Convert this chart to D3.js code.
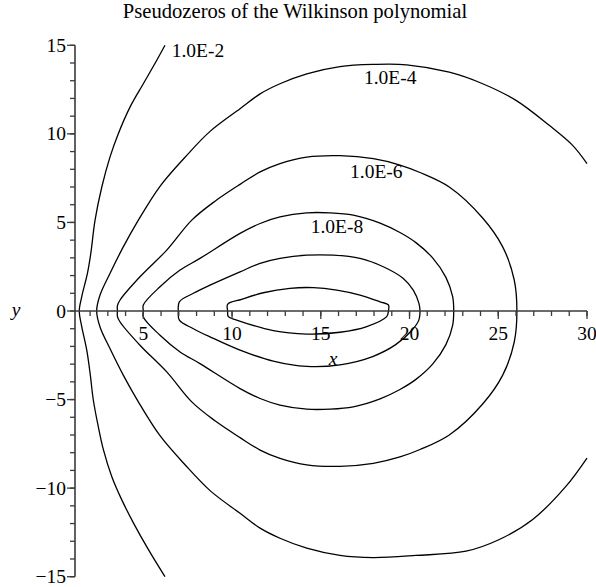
<!DOCTYPE html>
<html>
<head>
<meta charset="utf-8">
<script src="https://cdn.jsdelivr.net/npm/d3@7/dist/d3.min.js"></script>
<style>
  html, body { margin: 0; padding: 0; background: #fff; }
  svg { display: block; }
  text { font-family: "Liberation Serif", "Times New Roman", serif; fill: #000; }
</style>
</head>
<body>
<svg id="chart" width="596" height="587"></svg>
<script>
// Pseudozero contours of the Wilkinson polynomial, eps = 1e-2 ... 1e-12.
// Each contour is stored as its upper branch (y >= 0) and lower branch (y <= 0).

const eps2Upper = [[1.39,0],[1.53,0.81],[1.85,2.12],[2.04,3.25],[2.28,5.13],[2.66,7.0],[3.12,8.69],[3.59,10.01],[4.25,11.51],[5.0,12.83],[5.75,14.14],[6.22,15.0]];
const eps2Lower = [[1.39,0],[1.53,-0.88],[1.81,-2.20],[2.0,-3.51],[2.18,-5.01],[2.46,-6.52],[2.75,-7.83],[3.22,-9.34],[3.78,-10.65],[4.44,-11.96],[5.28,-13.46],[6.22,-15.0]];

const eps4Upper = [[2.37,0],[2.56,0.90],[3.12,2.12],[3.87,3.62],[4.72,5.13],[5.94,7.04],[7.35,8.68],[8.76,10.14],[10.45,11.42],[11.58,12.26],[12.70,12.83],[14.21,13.39],[16.08,13.80],[17.96,13.92],[19.84,13.90],[22.24,13.48],[24.12,12.83],[26.0,11.89],[27.87,10.48],[29.19,9.35],[30.0,8.32]];
const eps4Lower = [[2.37,0],[2.56,-0.90],[3.12,-2.12],[3.87,-3.62],[4.72,-5.13],[5.94,-7.04],[7.35,-8.68],[8.76,-10.14],[10.45,-11.42],[11.58,-12.26],[12.70,-12.83],[14.21,-13.39],[16.08,-13.80],[17.96,-13.92],[20.36,-13.80],[23.18,-13.56],[25.06,-12.90],[26.94,-11.77],[28.81,-9.90],[30.0,-8.30]];

const eps6Upper = [[3.54,0],[3.54,0.30],[3.69,0.62],[4.81,1.93],[6.32,3.44],[7.73,5.13],[9.04,6.20],[10.45,7.15],[11.58,7.85],[12.70,8.32],[14.21,8.69],[16.08,8.77],[17.96,8.60],[19.46,8.24],[20.59,7.82],[22.24,7.0],[24.12,5.25],[25.25,3.62],[25.90,1.75],[26.05,0]];
const eps6Lower = [[3.54,0],[3.54,-0.30],[3.69,-0.62],[4.81,-1.93],[6.32,-3.44],[7.73,-5.13],[9.04,-6.20],[10.45,-7.15],[11.58,-7.85],[12.70,-8.32],[14.21,-8.69],[16.08,-8.77],[17.96,-8.60],[19.46,-8.24],[20.59,-7.82],[22.24,-7.0],[24.12,-5.25],[25.25,-3.62],[25.90,-1.75],[26.05,0]];

const eps8Upper = [[5.0,0],[5.0,0.34],[5.94,1.37],[7.07,2.31],[8.19,2.97],[10.45,4.38],[11.58,4.94],[12.70,5.31],[14.21,5.54],[15.52,5.54],[16.83,5.41],[18.34,4.96],[19.46,4.43],[20.36,3.86],[21.30,3.0],[22.05,1.90],[22.43,0.81],[22.49,0]];
const eps8Lower = [[5.0,0],[5.0,-0.34],[5.94,-1.37],[7.07,-2.31],[8.19,-2.97],[10.45,-4.38],[11.58,-4.94],[12.70,-5.31],[14.21,-5.54],[15.52,-5.54],[16.83,-5.41],[18.34,-4.96],[19.46,-4.43],[20.36,-3.86],[21.30,-3.0],[22.05,-1.90],[22.43,-0.81],[22.49,0]];

const eps10Upper = [[6.97,0],[7.03,0.52],[7.82,1.0],[8.76,1.46],[10.45,2.21],[11.58,2.69],[12.70,2.97],[14.21,3.15],[15.70,3.15],[17.21,2.97],[18.52,2.50],[19.65,1.84],[20.21,1.18],[20.53,0.43],[20.59,0]];
const eps10Lower = [[6.97,0],[7.03,-0.52],[7.82,-1.0],[8.76,-1.46],[10.45,-2.21],[12.32,-2.83],[14.21,-3.13],[16.08,-3.04],[17.92,-2.57],[19.22,-1.90],[20.15,-1.07],[20.53,-0.50],[20.59,0]];

const eps12Upper = [[9.75,0],[9.75,0.38],[10.54,0.66],[11.76,1.03],[13.26,1.28],[14.58,1.32],[15.90,1.18],[17.21,0.90],[18.34,0.52],[18.81,0.34],[18.81,0]];
const eps12Lower = [[9.75,0],[9.79,-0.32],[10.26,-0.51],[12.32,-1.11],[14.21,-1.30],[16.08,-1.20],[17.59,-0.88],[18.71,-0.32],[18.81,0]];

// contour labels: text and the (x, y) of the label's left baseline point
const labelTexts = ["1.0E-2", "1.0E-4", "1.0E-6", "1.0E-8"];
const labelX = [6.6, 17.43, 16.65, 14.43];
const labelY = [14.33, 12.79, 7.53, 4.43];

// axis ticks
const xMinorTicks = d3.range(2, 31);
const xMajorTicks = [5, 10, 15, 20, 25, 30];
const yMinorTicks = d3.range(-15, 16);
const yMajorTicks = [-15, -10, -5, 0, 5, 10, 15];

const titleText = "Pseudozeros of the Wilkinson polynomial";

const svg = d3.select("#chart");
const x = d3.scaleLinear().domain([1.15, 30]).range([75, 587]);
const y = d3.scaleLinear().domain([-15, 15]).range([576.7, 45.3]);

const axisColor = "#3a3a3a";
const fmt = v => (v < 0 ? "\u2212" + Math.abs(v) : String(v));

// title
svg.append("text")
  .attr("x", 295).attr("y", 18)
  .attr("text-anchor", "middle")
  .attr("font-size", 20.6)
  .text(titleText);

// contours
const openLine = d3.line().x(d => x(d[0])).y(d => y(d[1])).curve(d3.curveCatmullRom.alpha(0.5));
const closedLine = d3.line().x(d => x(d[0])).y(d => y(d[1])).curve(d3.curveCatmullRomClosed.alpha(0.5));

const openCurves = [[eps2Upper, eps2Lower], [eps4Upper, eps4Lower]];
const closedCurves = [[eps6Upper, eps6Lower], [eps8Upper, eps8Lower], [eps10Upper, eps10Lower], [eps12Upper, eps12Lower]];

const g = svg.append("g").attr("fill", "none").attr("stroke", "#000").attr("stroke-width", 1.3);

openCurves.forEach(([up, lo]) => {
  const pts = up.slice().reverse().concat(lo.slice(1));
  g.append("path").attr("d", openLine(pts));
});
closedCurves.forEach(([up, lo]) => {
  const pts = up.concat(lo.slice(1, -1).reverse());
  g.append("path").attr("d", closedLine(pts));
});

// contour labels
svg.append("g").selectAll("text")
  .data(labelTexts)
  .join("text")
  .attr("x", (d, i) => x(labelX[i]))
  .attr("y", (d, i) => y(labelY[i]))
  .attr("font-size", 19.5)
  .text(d => d);

// axes
const ax = svg.append("g").attr("stroke", axisColor);
ax.append("line").attr("x1", x(1.15)).attr("x2", x(30)).attr("y1", y(0)).attr("y2", y(0)).attr("stroke-width", 1.6);
ax.append("line").attr("x1", x(1.15)).attr("x2", x(1.15)).attr("y1", y(-15)).attr("y2", y(15)).attr("stroke-width", 1.6);

ax.selectAll(".xminor").data(xMinorTicks).join("line")
  .attr("x1", d => x(d)).attr("x2", d => x(d))
  .attr("y1", y(0)).attr("y2", y(0) + 5).attr("stroke-width", 1.3);
ax.selectAll(".xmajor").data(xMajorTicks).join("line")
  .attr("x1", d => x(d)).attr("x2", d => x(d))
  .attr("y1", y(0)).attr("y2", y(0) + 8).attr("stroke-width", 1.3);
ax.selectAll(".yminor").data(yMinorTicks).join("line")
  .attr("x1", x(1.15) - 5).attr("x2", x(1.15))
  .attr("y1", d => y(d)).attr("y2", d => y(d)).attr("stroke-width", 1.3);
ax.selectAll(".ymajor").data(yMajorTicks).join("line")
  .attr("x1", x(1.15) - 8).attr("x2", x(1.15))
  .attr("y1", d => y(d)).attr("y2", d => y(d)).attr("stroke-width", 1.3);

// tick labels
svg.append("g").selectAll("text").data(xMajorTicks).join("text")
  .attr("x", d => x(d)).attr("y", 340)
  .attr("text-anchor", "middle").attr("font-size", 19.5)
  .text(fmt);
svg.append("g").selectAll("text").data(yMajorTicks).join("text")
  .attr("x", 66).attr("y", d => y(d) + 6.5)
  .attr("text-anchor", "end").attr("font-size", 19.5)
  .text(fmt);

// axis titles
svg.append("text").attr("x", 333).attr("y", 365)
  .attr("text-anchor", "middle").attr("font-size", 19.5).attr("font-style", "italic").text("x");
svg.append("text").attr("x", 16).attr("y", 316)
  .attr("text-anchor", "middle").attr("font-size", 19.5).attr("font-style", "italic").text("y");
</script>
</body>
</html>
